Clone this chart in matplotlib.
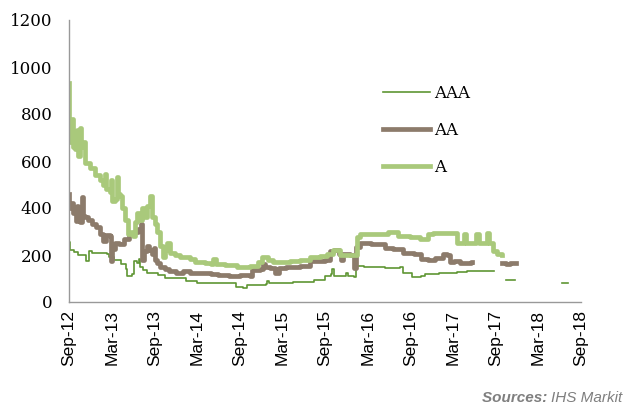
#!/usr/bin/env python

import numpy as np
import matplotlib
matplotlib.use("Agg")
import matplotlib.pyplot as plt

nan = np.nan

# x axis: months after Sep-12
tick_months = [0, 6, 12, 18, 24, 30, 36, 42, 48, 54, 60, 66, 72]
tick_labels = ["Sep-12", "Mar-13", "Sep-13", "Mar-14", "Sep-14", "Mar-15", "Sep-15",
               "Mar-16", "Sep-16", "Mar-17", "Sep-17", "Mar-18", "Sep-18"]

# AAA series
aaa_months = [0.0, 0.1, 0.7, 1.3, 2.2, 2.4, 2.85, 3.3, 5.4, 5.6, 6.3, 7.3, 8.0, 8.2, 8.8,
              9.1, 9.6, 9.8, 10.0, 10.4, 11.0, 12.5, 13.5, 16.5, 18.0, 21.0, 23.5, 24.5,
              25.0, 27.7, 27.9, 28.1, 31.5, 34.5, 36.0, 36.8, 37.0, 37.2, 38.7, 38.9, 39.2,
              40.1, 40.4, 41.5, 43.5, 44.5, 46.5, 47.0, 48.3, 49.5, 50.0, 52.0, 54.6, 56.0,
              58.0, 59.6, 59.7, 61.4, 62.6, 62.7, 69.3, 70.2]
aaa_values = [255, 220, 212, 200, 200, 175, 215, 210, 205, 190, 180, 160, 140, 110, 120,
              175, 165, 182, 150, 135, 125, 115, 102, 90, 82, 80, 62, 60,
              72, 78, 88, 80, 85, 95, 110, 118, 140, 112, 112, 125, 110,
              105, 152, 150, 148, 144, 148, 125, 108, 110, 118, 122, 126, 132,
              130, 132, nan, 95, 95, nan, 82, 82]

# AA series
aa_months = [0.0, 0.05, 0.3, 0.5, 0.85, 1.0, 1.1, 1.3, 1.55, 1.8, 1.85, 2.0, 2.25, 2.7,
             3.3, 3.8, 4.3, 4.8, 5.2, 5.75, 5.85, 6.1, 6.4, 7.0, 7.7, 8.4, 9.2, 9.7, 10.1,
             10.2, 10.5, 11.0, 11.3, 11.7, 11.9, 12.1, 12.4, 12.8, 13.5, 14.0, 15.0, 16.0,
             17.0, 18.5, 20.0, 21.0, 22.5, 24.0, 25.4, 25.8, 26.9, 27.3, 27.5, 28.3, 29.0,
             29.5, 30.5, 32.5, 33.9, 36.0, 36.7, 37.3, 38.0, 38.3, 38.6, 39.5, 39.9, 40.1,
             40.4, 40.9, 42.5, 44.5, 45.5, 47.0, 48.5, 49.5, 50.5, 51.5, 52.6, 53.2, 53.6,
             54.2, 55.0, 56.6, 56.7, 60.9, 61.5, 62.0, 62.9]
aa_values = [460, 400, 420, 380, 400, 345, 410, 370, 340, 380, 445, 365, 360, 350,
             330, 320, 290, 260, 285, 280, 175, 225, 250, 245, 270, 285, 300, 310, 330,
             180, 215, 240, 220, 205, 230, 180, 165, 150, 140, 130, 125, 130,
             122, 125, 120, 115, 110, 115, 110, 135, 140, 160, 150, 145, 122,
             145, 150, 155, 175, 180, 215, 220, 205, 180, 205, 200, 200, 145,
             235, 250, 245, 230, 225, 210, 205, 185, 180, 188, 205, 200, 170,
             175, 168, 172, nan, 168, 160, 168, 168]

# A series
a_months = [0.0, 0.05, 0.4, 0.55, 0.85, 1.1, 1.3, 1.55, 1.7, 2.0, 2.25, 2.95, 3.65, 4.35,
            4.8, 5.05, 5.2, 5.75, 5.9, 6.05, 6.45, 6.75, 6.9, 7.15, 7.45, 7.9, 8.3, 8.7,
            9.0, 9.3, 9.55, 10.0, 10.25, 10.7, 11.0, 11.4, 11.65, 12.05, 12.4, 12.8, 13.2,
            13.5, 13.8, 14.2, 14.9, 15.6, 17.0, 17.7, 19.1, 20.0, 20.25, 20.7, 21.9, 23.6,
            25.5, 26.6, 27.1, 28.0, 28.7, 31.1, 32.5, 33.9, 35.3, 36.3, 37.1, 38.1, 39.9,
            40.5, 40.9, 43.0, 44.9, 46.3, 48.0, 49.4, 50.5, 51.2, 53.6, 54.6, 55.4, 55.55,
            55.8, 57.2, 57.3, 57.6, 58.6, 58.8, 59.0, 59.6, 60.2, 60.9]
a_values = [930, 680, 780, 660, 650, 730, 620, 740, 660, 680, 590, 570, 540, 520,
            500, 545, 480, 470, 520, 430, 440, 530, 460, 450, 400, 350, 290, 300,
            280, 340, 380, 350, 400, 360, 410, 450, 360, 330, 300, 240, 190,
            220, 250, 210, 200, 190, 185, 170, 165, 160, 185, 160, 158, 150,
            155, 170, 190, 180, 172, 175, 180, 190, 195, 205, 220, 200, 200,
            275, 290, 290, 298, 280, 275, 270, 290, 295, 292, 250, 250, 290,
            250, 250, 290, 250, 250, 292, 250, 215, 205, 200]

fig = plt.figure(figsize=(6.3, 4.08), dpi=100)
ax = fig.add_axes([69 / 630, 1 - 302 / 408, 512 / 630, 282 / 408])

# draw the three rating series
ax.plot(aaa_months, aaa_values, color="#5f9634", lw=1.2, drawstyle="steps-post", label="AAA")
ax.plot(aa_months, aa_values, color="#8c7b6b", lw=3.4, drawstyle="steps-post", label="AA")
ax.plot(a_months, a_values, color="#a9c97b", lw=3.4, drawstyle="steps-post", label="A")

ax.set_xlim(0, 72)
ax.set_ylim(0, 1200)
ax.set_yticks(range(0, 1201, 200))
ax.set_xticks(tick_months)
ax.set_xticklabels(tick_labels, rotation=90, family="Liberation Sans", fontsize=12.5)
for t in ax.get_yticklabels():
    t.set_family("DejaVu Serif")
    t.set_fontsize(12)
ax.tick_params(axis="both", length=0)
ax.tick_params(axis="y", pad=12)
ax.tick_params(axis="x", pad=6)

for s in ["top", "right"]:
    ax.spines[s].set_visible(False)
for s in ["left", "bottom"]:
    ax.spines[s].set_color("#999999")
    ax.spines[s].set_linewidth(1.0)

leg = ax.legend(loc="upper left", bbox_to_anchor=(0.613, 0.77), frameon=False,
                borderpad=0, borderaxespad=0, handlelength=2.8, handletextpad=0.3,
                labelspacing=1.2, prop={"family": "DejaVu Serif", "size": 12})

# source note, bottom right
src = fig.text(0.988, 0.008, "IHS Markit", ha="right", va="bottom", style="italic",
               family="Liberation Sans", fontsize=11, color="#7f7f7f")
ax.annotate("Sources: ", xy=(0, 0), xycoords=src, ha="right", va="bottom",
            style="italic", weight="bold", family="Liberation Sans", fontsize=11,
            color="#7f7f7f", annotation_clip=False)

fig.savefig("out.png", dpi=100)
